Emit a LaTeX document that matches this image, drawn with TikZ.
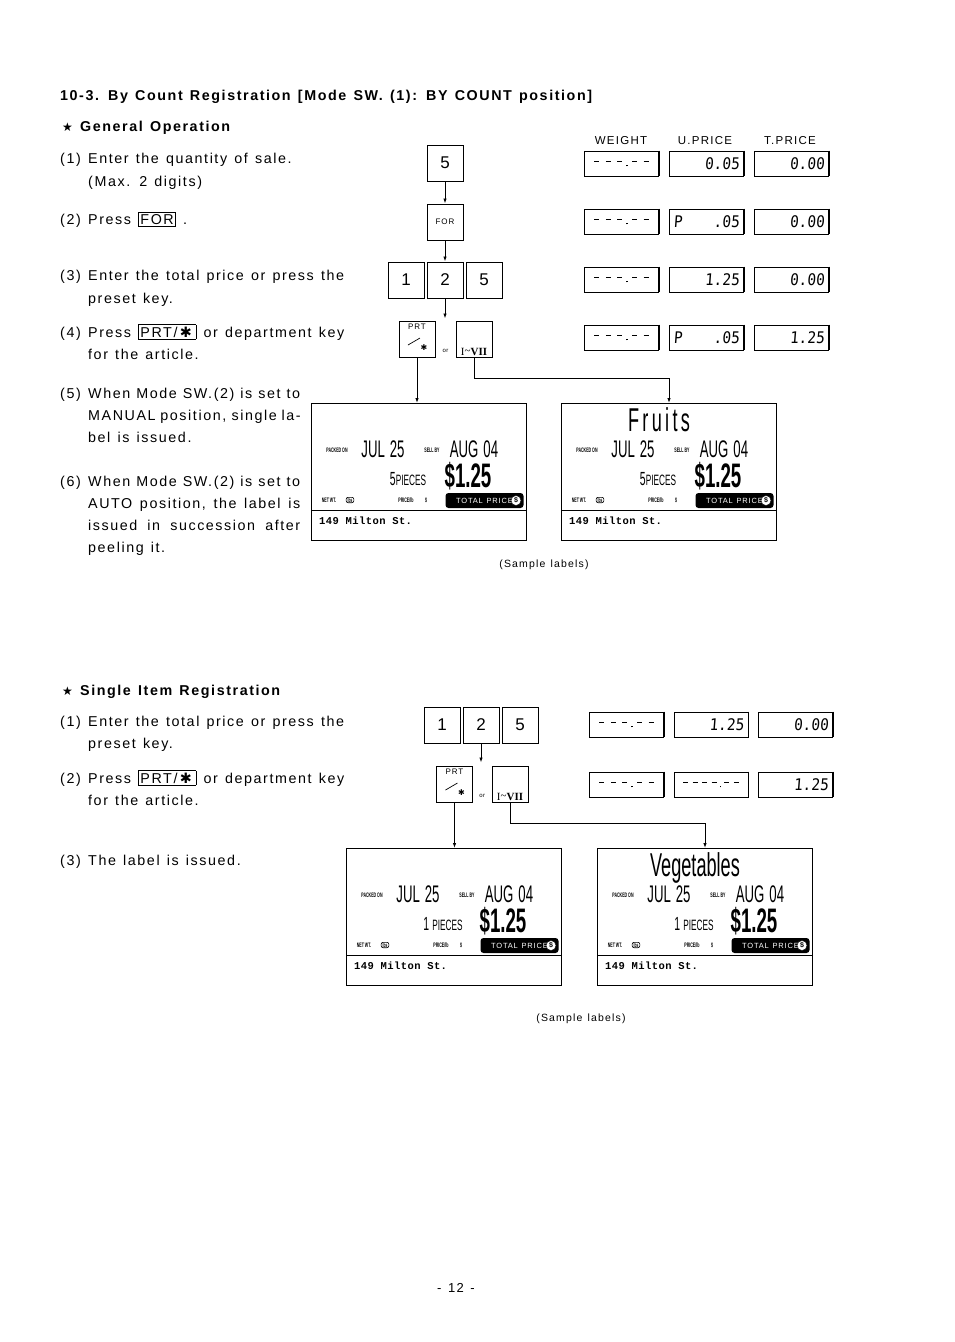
\documentclass[tikz,border=0pt]{standalone}
\usepackage{fontspec}
\setmainfont{Liberation Sans}[LetterSpace=11, WordSpace=1.3]
\newfontfamily\condfont{Liberation Sans}[FakeStretch=0.55]
\newfontfamily\segfont{DejaVu Sans Mono}[FakeStretch=0.9, FakeSlant=0.08]
\newfontfamily\addrfont{Liberation Mono}[LetterSpace=4]
\newfontfamily\symfont{DejaVu Sans}
\newfontfamily\romfont{Liberation Serif}
\usetikzlibrary{positioning,calc,arrows.meta}

% segments of the displays
\newcommand{\sg}{\rule[4pt]{5pt}{1.6pt}}
\newcommand{\sdot}{\rule{1.6pt}{1.6pt}}
\newcommand{\wdash}{\sg\hspace{6.5pt}\sg\hspace{6.5pt}\sg\hspace{4pt}\sdot\hspace{4pt}\sg\hspace{6.5pt}\sg}
\newcommand{\udash}{\sg\hspace{4.5pt}\sg\hspace{4.5pt}\sg\hspace{4.5pt}\sg\hspace{3pt}\sdot\hspace{3pt}\sg\hspace{4.5pt}\sg}
\newcommand{\keycap}[1]{{\setlength{\fboxsep}{1.5pt}\setlength{\fboxrule}{0.7pt}\fbox{#1}}}
\newcommand{\starsym}{{\symfont\fontsize{12}{12}\selectfont ★}}
\newcommand{\astsym}{{\symfont ✱}}

\tikzset{
  txt/.style={anchor=base west, inner sep=0pt, font=\fontsize{14.3}{14.3}\selectfont},
  bigtxt/.style={txt, font=\bfseries\fontsize{14.3}{14.3}\selectfont},
  headtxt/.style={anchor=base, inner sep=0pt, font=\fontsize{11.5}{11.5}\selectfont},
  keybox/.style={draw, line width=1pt, minimum width=36pt, minimum height=36pt, inner sep=0pt, font=\fontsize{17}{17}\selectfont},
  keytiny/.style={inner sep=0pt, font=\fontsize{8}{8}\selectfont},
  dispbox/.style={draw, line width=0.9pt, minimum height=25pt, text width=66pt, inner xsep=4pt, inner ysep=0pt, font=\segfont\fontsize{16}{16}\selectfont},
  pdisp/.style={dispbox, align=right},
  wdisp/.style={dispbox, align=center},
  plabel/.style={draw, line width=1pt, minimum width=215pt, minimum height=137pt, inner sep=0pt, anchor=north west},
  labtitle/.style={inner sep=0pt, font=\condfont\fontsize{33}{33}\selectfont},
  labsmall/.style={inner sep=0pt, font=\condfont\bfseries\fontsize{6.5}{6.5}\selectfont},
  labdate/.style={inner sep=0pt, font=\condfont\fontsize{24}{24}\selectfont},
  labqty/.style={inner sep=0pt, font=\condfont},
  labprice/.style={inner sep=0pt, font=\condfont\bfseries\fontsize{34}{34}\selectfont},
  labunit/.style={draw, rounded corners=2pt, line width=0.6pt, inner xsep=1.5pt, inner ysep=0.5pt, font=\condfont\bfseries\fontsize{6}{6}\selectfont},
  labtotal/.style={fill=black, text=white, rounded corners=3pt, minimum width=78pt, minimum height=15pt, inner sep=0pt, font=\fontsize{7.5}{7.5}\selectfont},
  labdollar/.style={circle, fill=white, draw=black, text=black, minimum size=10pt, inner sep=0pt, font=\bfseries\fontsize{7}{7}\selectfont},
  labaddr/.style={anchor=west, inner sep=0pt, font=\addrfont\bfseries\fontsize{10.5}{10.5}\selectfont},
  arr/.style={-{Latex[length=5pt,width=3.5pt]}, line width=0.9pt},
  line/.style={line width=0.9pt}
}

% contents of one sample label
\newcommand{\labelbody}[3]{%
  \coordinate (#1o) at (#1.north west);
  \node[labtitle, anchor=base] (#1ti) at ($(#1o)+(98,28)$) {#2};
  \node[labsmall] (#1pk) at ($(#1o)+(26,47)$) {PACKED ON};
  \node[labdate] (#1jul) at ($(#1o)+(72,46)$) {JUL\hspace{5pt}25};
  \node[labsmall] (#1sb) at ($(#1o)+(121,47)$) {SELL BY};
  \node[labdate] (#1aug) at ($(#1o)+(163,46)$) {AUG\hspace{5pt}04};
  \node[labqty] (#1qt) at ($(#1o)+(97,76)$) {{\fontsize{19}{19}\selectfont #3}{\fontsize{15}{15}\selectfont PIECES}};
  \node[labprice] (#1pr) at ($(#1o)+(157,73)$) {\$1.25};
  \node[labsmall] (#1nw) at ($(#1o)+(18,97)$) {NET WT.};
  \node[labunit] (#1lb) at ($(#1o)+(39,97)$) {lbs};
  \node[labsmall] (#1pl) at ($(#1o)+(95,97)$) {PRICE/lb};
  \node[labsmall] (#1pd) at ($(#1o)+(115,97.5)$) {\$};
  \node[labtotal] (#1tp) at ($(#1o)+(173.5,97.5)$) {TOTAL PRICE\hspace{13pt}};
  \node[labdollar] (#1ds) at ($(#1o)+(205,97.5)$) {\$};
  \draw[line width=1pt] ($(#1o)+(0,107)$) -- ($(#1.north east)+(0,107)$);
  \node[labaddr] (#1ad) at ($(#1o)+(8,118)$) {149 Milton St.};
}

\begin{document}
\begin{tikzpicture}[x=1pt, y=-1pt]
\useasboundingbox (0,0) rectangle (954,1342);
\fill[white] (0,0) rectangle (954,1342);

% ---- General Operation, texts
\node[bigtxt] (title) at (60,100) {10-3. By Count Registration [Mode SW. (1): BY COUNT position]};
\node[bigtxt] (genop) at (62,131) {\starsym\ General Operation};
\foreach \yy/\num in {163/1, 224/2, 280/3, 337/4, 398/5, 486/6}
  \node[txt] (n\num) at (60,\yy) {(\num)};
\foreach \yy/\txt in {163/{Enter the quantity of sale.}, 186/{(Max. 2 digits)},
    224/{Press \keycap{FOR} .}, 280/{Enter the total price or press the},
    303/{preset key.}, 337/{Press \keycap{PRT/\,\astsym\,} or department key},
    359/{for the article.}, 442/{bel is issued.}, 552/{peeling it.}}
  \node[txt] at (88,\yy) {\txt};
\foreach \yy/\txt in {398/{When Mode SW.(2) is set to}, 420/{MANUAL position, single la-},
    486/{When Mode SW.(2) is set to}, 508/{AUTO position, the label is},
    530/{issued in succession after}}
  \node[txt] at (88,\yy) {\makebox[212pt][s]{\txt}};

% ---- keys
\node[keybox] (k5) at (445,163) {5};
\node[keybox, below=22pt of k5] (kfor) {\fontsize{8}{8}\selectfont FOR};
\node[keybox, below=21pt of kfor] (k2) {2};
\node[keybox, left=2pt of k2] (k1) {1};
\node[keybox, right=2pt of k2] (k5b) {5};
\node[keybox, below=22pt of k2, xshift=-28pt] (kprt) {};
\node[keybox, right=20pt of kprt] (kdept) {};
\node[keytiny, font=\fontsize{6}{6}\selectfont] (kor) at ($(kprt.south east)!0.5!(kdept.south west)+(0,-7)$) {or};
\node[keytiny, anchor=north] at ([yshift=-3pt]kprt.north) {PRT};
\draw[line width=0.7pt] ($(kprt.center)+(-9,6)$) -- ($(kprt.center)+(3,-1)$);
\node[keytiny, font=\symfont\fontsize{8}{8}\selectfont] at ($(kprt.center)+(7,9)$) {✱};
\node[keytiny, anchor=south, font=\romfont\fontsize{11}{11}\selectfont] at ([yshift=2pt]kdept.south) {I\raisebox{1pt}{\textasciitilde}\textbf{VII}};

\coordinate[below=20pt of k2] (kstop);
\draw[arr] (k5) -- (kfor);
\draw[arr] (kfor) -- (k2);
\draw[arr] (k2) -- (kstop);

% ---- displays
\node[headtxt] (hw) at (621,144) {WEIGHT};
\node[headtxt] (hu) at (705,144) {U.PRICE};
\node[headtxt] (ht) at (790,144) {T.PRICE};
\foreach \r/\yy/\uval/\tval in {1/163.5/{0.05}/{0.00}, 2/221.5/{P\hfill.05}/{0.00},
    3/279.5/{1.25}/{0.00}, 4/337.5/{P\hfill.05}/{1.25}} {
  \node[wdisp] (w\r) at (621.5,\yy) {\wdash};
  \node[pdisp] (u\r) at (706.5,\yy) {\uval};
  \node[pdisp] (t\r) at (791.5,\yy) {\tval};
  \foreach \d in {w\r,u\r,t\r}
    \draw[line width=1.8pt] (\d.north east) -- (\d.south east);
}

% ---- sample labels
\node[plabel] (lblA) at (311,403) {};
\node[plabel] (lblB) at (561,403) {};
\labelbody{lblA}{}{5}
\labelbody{lblB}{\addfontfeature{LetterSpace=10}Fruits}{5}
\draw[arr] (kprt.south) -- (kprt.south |- lblA.north);
\draw[arr] (kdept.south) -- ++(0,21) -| (lblB.north);
\node[headtxt, font=\fontsize{10.5}{10.5}\selectfont] (sampA) at (544,567) {(Sample labels)};

% ---- Single Item Registration, texts
\node[bigtxt] (single) at (62,695) {\starsym\ Single Item Registration};
\foreach \yy/\num in {726/1, 783/2, 865/3}
  \node[txt] (m\num) at (60,\yy) {(\num)};
\foreach \yy/\txt in {726/{Enter the total price or press the}, 748/{preset key.},
    783/{Press \keycap{PRT/\,\astsym\,} or department key}, 805/{for the article.},
    865/{The label is issued.}}
  \node[txt] at (88,\yy) {\txt};

% ---- keys
\node[keybox] (b2) at (481,725) {2};
\node[keybox, left=2pt of b2] (b1) {1};
\node[keybox, right=2pt of b2] (b5) {5};
\node[keybox, below=22pt of b2, xshift=-26.5pt] (bprt) {};
\node[keybox, right=18.5pt of bprt] (bdept) {};
\node[keytiny, font=\fontsize{6}{6}\selectfont] (bor) at ($(bprt.south east)!0.5!(bdept.south west)+(0,-7)$) {or};
\node[keytiny, anchor=north] at ([yshift=-3pt]bprt.north) {PRT};
\draw[line width=0.7pt] ($(bprt.center)+(-9,6)$) -- ($(bprt.center)+(3,-1)$);
\node[keytiny, font=\symfont\fontsize{8}{8}\selectfont] at ($(bprt.center)+(7,9)$) {✱};
\node[keytiny, anchor=south, font=\romfont\fontsize{11}{11}\selectfont] at ([yshift=2pt]bdept.south) {I\raisebox{1pt}{\textasciitilde}\textbf{VII}};
\coordinate[below=19pt of b2] (bstop);
\draw[arr] (b2) -- (bstop);

% ---- displays
\node[wdisp] (bw1) at (626.5,724.5) {\wdash};
\node[pdisp] (bu1) at (711,724.5) {1.25};
\node[pdisp] (bt1) at (795.5,724.5) {0.00};
\node[wdisp] (bw2) at (626.5,784.5) {\wdash};
\node[wdisp] (bu2) at (711,784.5) {\udash};
\node[pdisp] (bt2) at (795.5,784.5) {1.25};
\foreach \d in {bw1,bu1,bt1,bw2,bu2,bt2}
  \draw[line width=1.8pt] (\d.north east) -- (\d.south east);

% ---- sample labels
\node[plabel] (lblC) at (346,848) {};
\node[plabel] (lblD) at (597,848) {};
\labelbody{lblC}{}{1\,}
\labelbody{lblD}{Vegetables}{1\,}
\draw[arr] (bprt.south) -- (bprt.south |- lblC.north);
\draw[arr] (bdept.south) -- ++(0,21) -| (lblD.north);
\node[headtxt, font=\fontsize{10.5}{10.5}\selectfont] (sampB) at (581,1021) {(Sample labels)};

\node[headtxt, font=\fontsize{13}{13}\selectfont] (page) at (456,1292) {- 12 -};
\end{tikzpicture}
\end{document}
